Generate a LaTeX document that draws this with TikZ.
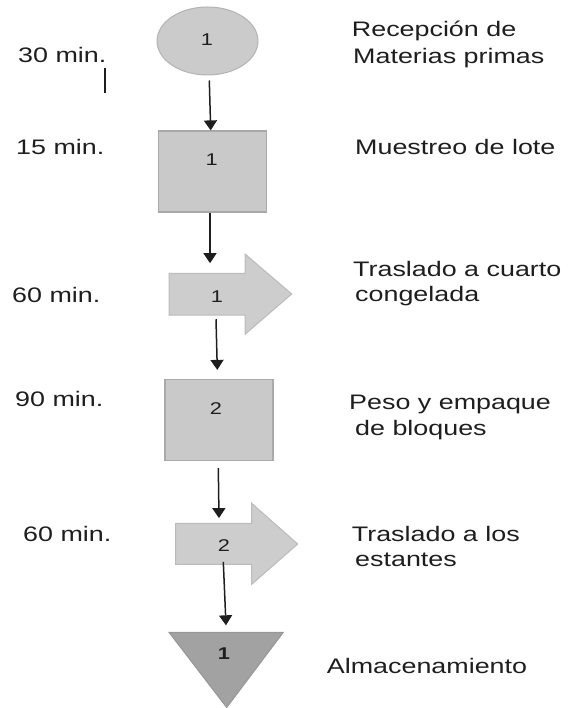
\documentclass[tikz,border=0pt]{standalone}
\usepackage{fontspec}
\setmainfont{Liberation Sans}[FakeStretch=1.28]
\usetikzlibrary{shapes.geometric,arrows.meta}
\definecolor{boxfill}{HTML}{C9C9C9}
\definecolor{boxline}{HTML}{A9A9A9}
\definecolor{ellfill}{HTML}{CBCBCB}
\definecolor{ellline}{HTML}{B3B3B3}
\definecolor{arrfill}{HTML}{CDCDCD}
\definecolor{arrline}{HTML}{BBBBBB}
\definecolor{trifill}{HTML}{A2A2A2}
\definecolor{triline}{HTML}{979797}
\definecolor{ink}{HTML}{1E1E1E}
\tikzset{
  txt/.style={anchor=base west, inner sep=0pt, text=ink, font=\fontsize{21}{25}\selectfont},
  num/.style={inner sep=0pt, text=ink, font=\fontsize{17}{20}\selectfont},
  opbox/.style={rectangle, draw=boxline, fill=boxfill, line width=1.2pt, minimum width=108pt, minimum height=81pt, inner sep=0pt},
  conn/.style={draw=ink, line width=1.5pt, -{Triangle[width=13pt,length=10pt]}},
  blockarrow/.style={draw=arrline, fill=arrfill, line width=1pt, line join=miter},
}
\begin{document}
\begin{tikzpicture}[x=1pt,y=-1pt]
\useasboundingbox (0,0) rectangle (569,708);

% start ellipse
\node[ellipse, draw=ellline, fill=ellfill, line width=1pt, minimum width=101pt, minimum height=68pt, inner sep=0pt] (e) at (207.5,41) {};
\node[num] (el) at (207,40) {1};

% square 1
\node[opbox] (s1) at (212.7,171.5) {};
\node[num] (s1l) at (211.7,160) {1};

% block arrow 1
\path[blockarrow] (169,273.3) -- (245,273.3) -- (245,254) -- (291.7,294) -- (245,334.3) -- (245,315) -- (169,315) -- cycle;
\node[inner sep=0pt, minimum width=76pt, minimum height=41.7pt] (b1) at (207,294.2) {};
\node[num] (b1l) at (217,296.7) {1};

% square 2
\node[opbox] (s2) at (218.9,420) {};
\node[num] (s2l) at (216,409) {2};

% block arrow 2
\path[blockarrow] (175.7,523.3) -- (251.7,523.3) -- (251.7,503.3) -- (297.7,544) -- (251.7,584.3) -- (251.7,564.3) -- (175.7,564.3) -- cycle;
\node[inner sep=0pt, minimum width=76pt, minimum height=41pt] (b2) at (213.7,543.8) {};
\node[num] (b2l) at (224,546) {2};

% storage triangle
\path[draw=triline, fill=trifill, line width=1pt, line join=miter] (169,632.3) -- (283.3,632.3) -- (226.7,707.5) -- cycle;
\coordinate (t) at (226.7,632.3);
\node[num, font=\fontsize{17}{20}\selectfont\bfseries] (tl) at (224,654) {1};

% connectors
\draw[conn] ([xshift=1.8pt,yshift=-5pt]e.south) -- ([xshift=-2pt]s1.north);
\draw[conn] ([xshift=-2.7pt]s1.south) -- ([xshift=3pt,yshift=10pt]b1.north);
\draw[conn] ([xshift=9pt,yshift=-4pt]b1.south) -- ([xshift=-1.6pt,yshift=9pt]s2.north);
\draw[conn] ([xshift=-0.6pt,yshift=-7pt]s2.south) -- ([xshift=5.3pt,yshift=5pt]b2.north);
\draw[conn] ([xshift=9.6pt,yshift=2.6pt]b2.south) -- ([xshift=-0.7pt,yshift=7pt]t);

% small mark
\coordinate (m1) at (105,68);
\coordinate (m2) at (105,93);
\draw[ink, line width=1.5pt] (m1) -- (m2);

% times
\node[txt] (t1) at (18,63) {30 min.};
\node[txt] (t2) at (16,155) {15 min.};
\node[txt] (t3) at (12,302.7) {60 min.};
\node[txt] (t4) at (15,406.7) {90 min.};
\node[txt] (t5) at (23,541.7) {60 min.};

% descriptions
\node[txt] (d1a) at (351.7,36.7) {Recepción de};
\node[txt] (d1b) at (353,63.3) {Materias primas};
\node[txt] (d2) at (355,155) {Muestreo de lote};
\node[txt] (d3a) at (353,276.7) {Traslado a cuarto};
\node[txt] (d3b) at (355,301.7) {congelada};
\node[txt] (d4a) at (349,409) {Peso y empaque};
\node[txt] (d4b) at (355,435) {de bloques};
\node[txt] (d5a) at (351.7,541.7) {Traslado a los};
\node[txt] (d5b) at (355,566.7) {estantes};
\node[txt] (d6) at (326.7,673.3) {Almacenamiento};
\end{tikzpicture}
\end{document}
